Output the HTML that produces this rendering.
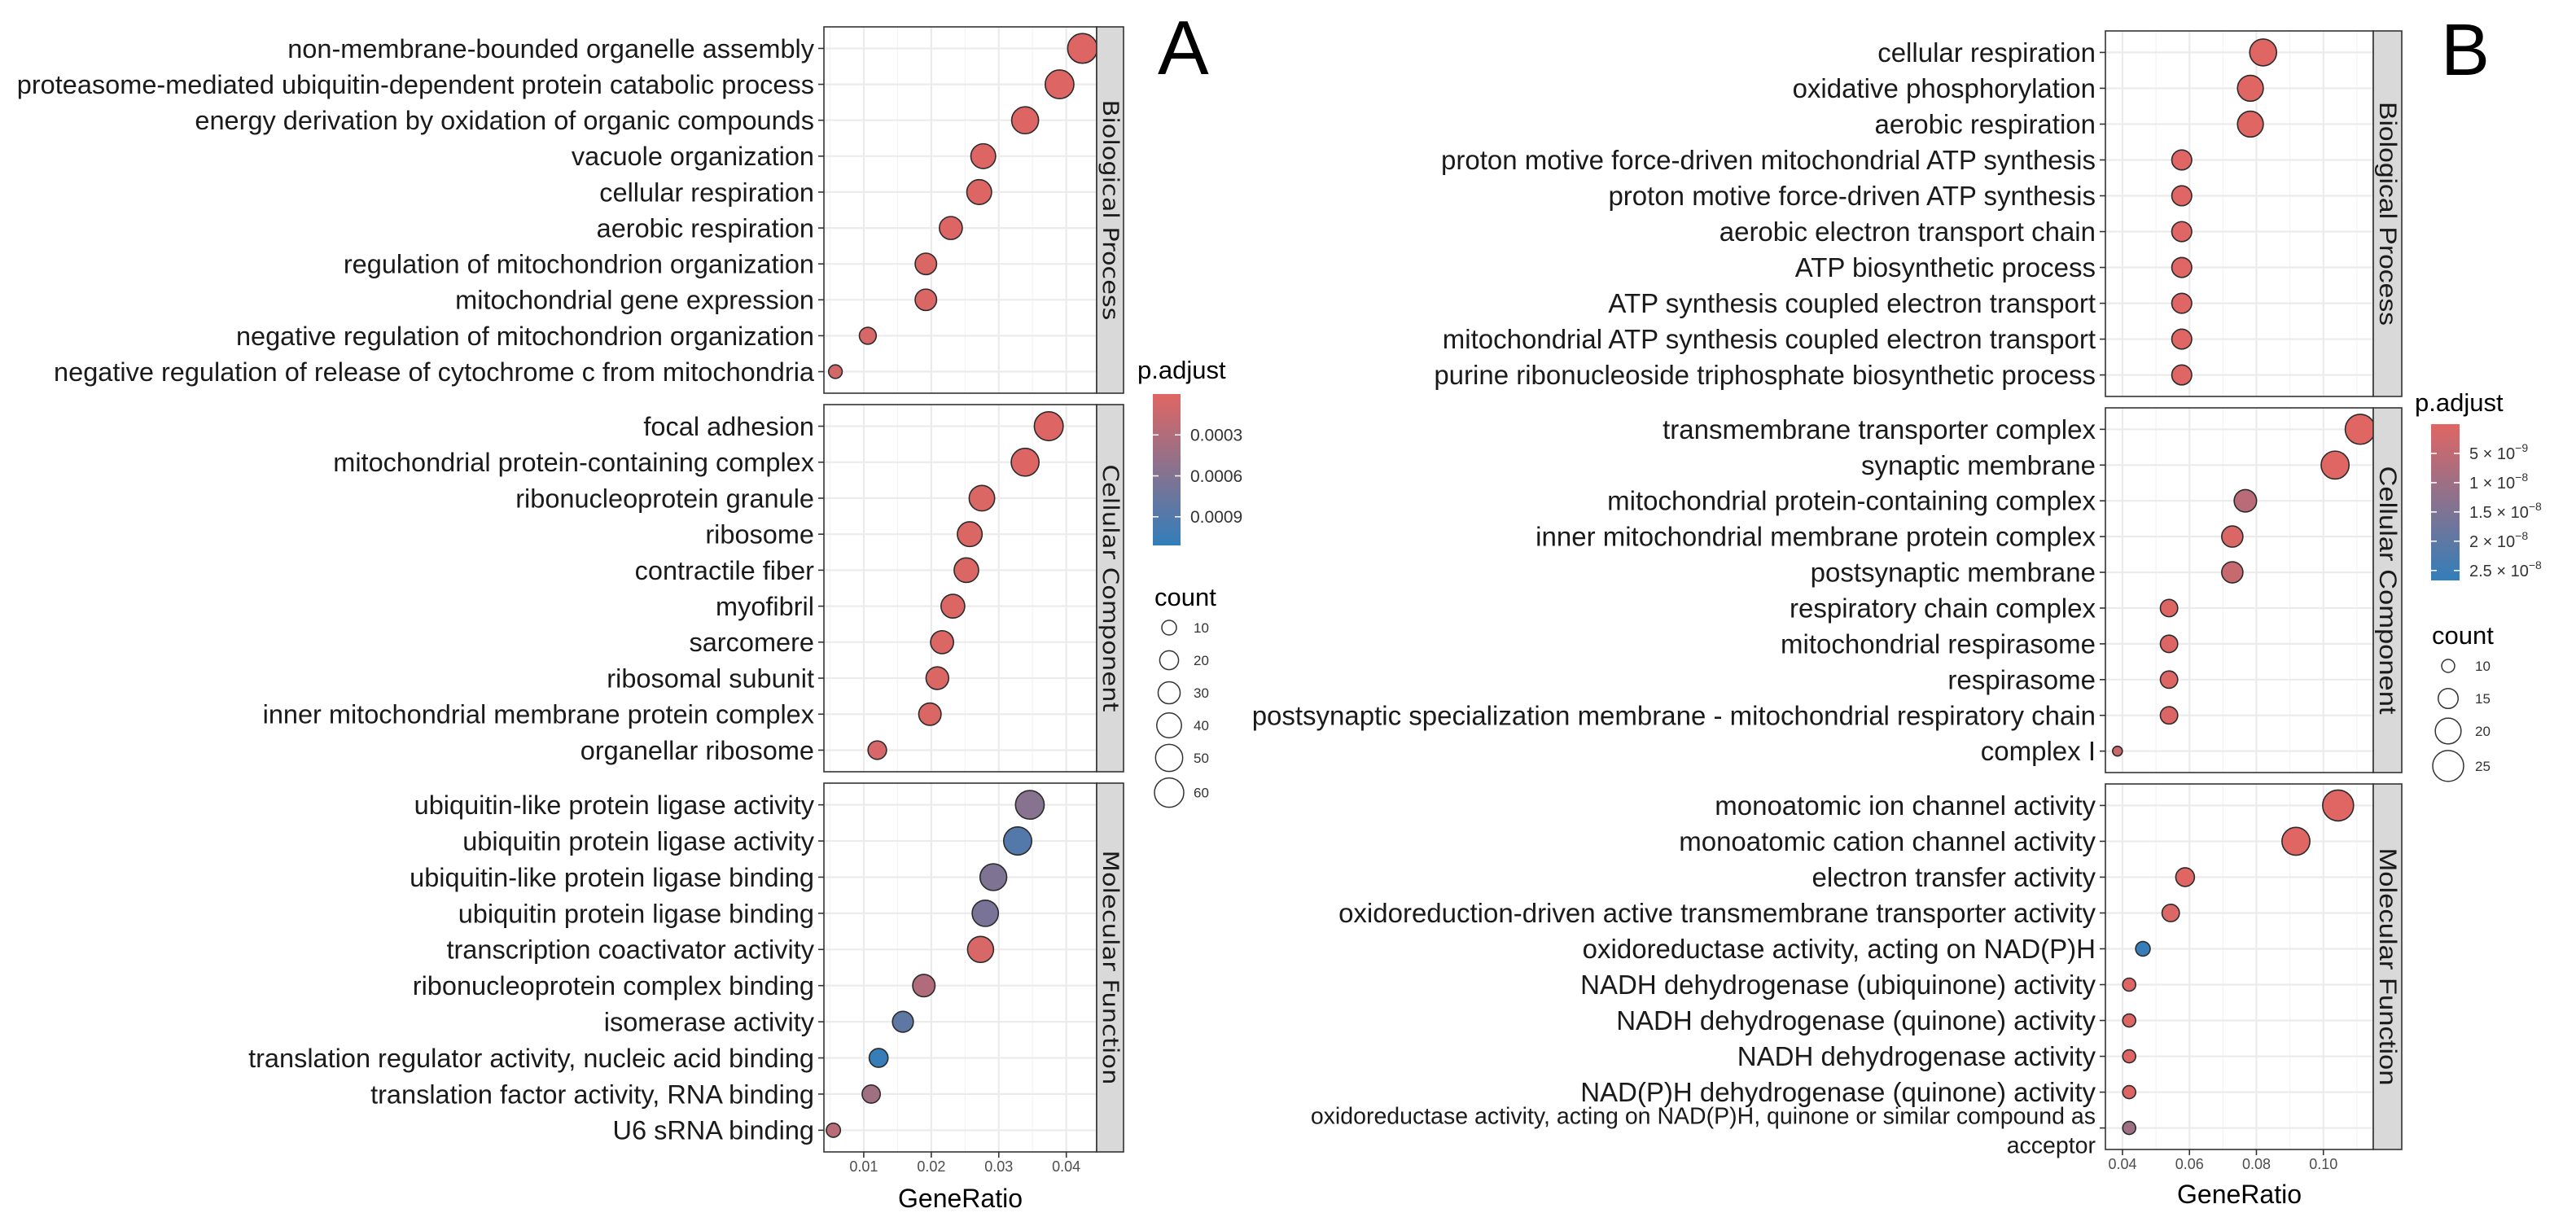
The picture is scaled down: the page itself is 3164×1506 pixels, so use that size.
<!DOCTYPE html>
<html><head><meta charset="utf-8">
<style>
html,body{margin:0;padding:0;background:#fff;}
svg{display:block;font-family:"Liberation Sans",Arial,sans-serif;}
</style></head>
<body>
<svg id="fig" xmlns="http://www.w3.org/2000/svg" width="3164" height="1506" viewBox="0 0 3164 1506">
<rect width="3164" height="1506" fill="#fff"/>
<text x="1422" y="91" font-size="94" fill="#000">A</text>
<text x="2998" y="92" font-size="90" fill="#000">B</text>
</svg>
<script>
// ---------- Chart A data ----------
const A_bp_terms = ["non-membrane-bounded organelle assembly","proteasome-mediated ubiquitin-dependent protein catabolic process","energy derivation by oxidation of organic compounds","vacuole organization","cellular respiration","aerobic respiration","regulation of mitochondrion organization","mitochondrial gene expression","negative regulation of mitochondrion organization","negative regulation of release of cytochrome c from mitochondria"];
const A_bp_ratio = [0.0424,0.0390,0.0339,0.0277,0.0271,0.0229,0.0192,0.0192,0.0106,0.0058];
const A_bp_count = [62,57,49,40,40,33,28,28,15,8];
const A_bp_padj = [0.00002,0.00002,0.00002,0.00002,0.00002,0.00002,0.00003,0.00003,0.00005,0.00008];
const A_cc_terms = ["focal adhesion","mitochondrial protein-containing complex","ribonucleoprotein granule","ribosome","contractile fiber","myofibril","sarcomere","ribosomal subunit","inner mitochondrial membrane protein complex","organellar ribosome"];
const A_cc_ratio = [0.0374,0.0339,0.0275,0.0257,0.0252,0.0232,0.0216,0.0209,0.0198,0.0120];
const A_cc_count = [58,53,43,40,39,36,33,32,31,19];
const A_cc_padj = [0.00002,0.00002,0.00003,0.00003,0.00003,0.00003,0.00003,0.00003,0.00003,0.00006];
const A_mf_terms = ["ubiquitin-like protein ligase activity","ubiquitin protein ligase activity","ubiquitin-like protein ligase binding","ubiquitin protein ligase binding","transcription coactivator activity","ribonucleoprotein complex binding","isomerase activity","translation regulator activity, nucleic acid binding","translation factor activity, RNA binding","U6 sRNA binding"];
const A_mf_ratio = [0.0346,0.0328,0.0292,0.0280,0.0273,0.0189,0.0158,0.0122,0.0111,0.0055];
const A_mf_count = [57,54,48,46,45,31,26,20,18,9];
const A_mf_padj = [0.00057,0.00090,0.00062,0.00066,0.00005,0.00030,0.00082,0.00108,0.00040,0.00025];
const A_x_ticks = [0.01,0.02,0.03,0.04];
const A_x_tick_labels = ["0.01","0.02","0.03","0.04"];
const A_p_ticks = [0.0003,0.0006,0.0009];
const A_p_tick_labels = ["0.0003","0.0006","0.0009"];
const A_count_keys = [10,20,30,40,50,60];
const A_facets = ["Biological Process","Cellular Component","Molecular Function"];

// ---------- Chart B data ----------
const B_bp_terms = ["cellular respiration","oxidative phosphorylation","aerobic respiration","proton motive force-driven mitochondrial ATP synthesis","proton motive force-driven ATP synthesis","aerobic electron transport chain","ATP biosynthetic process","ATP synthesis coupled electron transport","mitochondrial ATP synthesis coupled electron transport","purine ribonucleoside triphosphate biosynthetic process"];
const B_bp_ratio = [0.0820,0.0782,0.0782,0.0577,0.0577,0.0577,0.0577,0.0577,0.0577,0.0577];
const B_bp_count = [21,20,20,15,15,15,15,15,15,15];
const B_bp_padj = [1e-10,1e-10,1e-10,2e-10,2e-10,2e-10,2e-10,2e-10,2e-10,2e-10];
const B_cc_terms = ["transmembrane transporter complex","synaptic membrane","mitochondrial protein-containing complex","inner mitochondrial membrane protein complex","postsynaptic membrane","respiratory chain complex","mitochondrial respirasome","respirasome","postsynaptic specialization membrane - mitochondrial respiratory chain","complex I"];
const B_cc_ratio = [0.1110,0.1035,0.0767,0.0728,0.0728,0.0539,0.0539,0.0539,0.0539,0.0385];
const B_cc_count = [24,22,17,16,16,13,13,13,13,8];
const B_cc_padj = [1e-10,1e-10,6e-9,1e-9,4e-9,5e-10,5e-10,5e-10,5e-10,3.5e-9];
const B_mf_terms = ["monoatomic ion channel activity","monoatomic cation channel activity","electron transfer activity","oxidoreduction-driven active transmembrane transporter activity","oxidoreductase activity, acting on NAD(P)H","NADH dehydrogenase (ubiquinone) activity","NADH dehydrogenase (quinone) activity","NADH dehydrogenase activity","NAD(P)H dehydrogenase (quinone) activity","oxidoreductase activity, acting on NAD(P)H, quinone or similar compound as|acceptor"];
const B_mf_ratio = [0.1044,0.0918,0.0587,0.0544,0.0461,0.0420,0.0420,0.0420,0.0420,0.0420];
const B_mf_count = [25,22,14,13,11,10,10,10,10,10];
const B_mf_padj = [1e-10,1e-10,1e-10,8e-10,2.6e-8,5e-10,5e-10,5e-10,5e-10,1e-8];
const B_x_ticks = [0.04,0.06,0.08,0.10];
const B_x_tick_labels = ["0.04","0.06","0.08","0.10"];
const B_p_ticks = [5e-9,1e-8,1.5e-8,2e-8,2.5e-8];
const B_p_tick_mant = ["5","1","1.5","2","2.5"];
const B_p_tick_exp = ["-9","-8","-8","-8","-8"];
const B_count_keys = [10,15,20,25];
const B_facets = ["Biological Process","Cellular Component","Molecular Function"];

const NS = "http://www.w3.org/2000/svg";
const svg = document.getElementById('fig');
function mk(tag, attrs, parent){
  const e = document.createElementNS(NS, tag);
  for (const k in attrs) e.setAttribute(k, attrs[k]);
  (parent||svg).appendChild(e);
  return e;
}
const LOW = [224,102,99], HIGH = [50,126,186];
function colorFor(v, dom){
  let t = (v - dom[0])/(dom[1]-dom[0]); t = Math.max(0, Math.min(1, t));
  const c = LOW.map((l,i)=>Math.round(l + (HIGH[i]-l)*t));
  return `rgb(${c[0]},${c[1]},${c[2]})`;
}

function drawChart(cfg){
  const g = mk('g', {});
  
  
  const xs = v => cfg.px0 + (v - cfg.dom[0])/(cfg.dom[1]-cfg.dom[0])*(cfg.px1-cfg.px0);
  const rs = c => cfg.r0 + (cfg.r1-cfg.r0)*(Math.sqrt(c)-Math.sqrt(cfg.c0))/(Math.sqrt(cfg.c1)-Math.sqrt(cfg.c0));
  cfg.facets.forEach((f, fi) => {
    const [top, bot] = cfg.facetY[fi];
    const terms = cfg.terms[fi], ratio = cfg.ratio[fi], count = cfg.count[fi], padj = cfg.padj[fi];
    const n = terms.length, sp = (bot-top)/(n-1+1.2);
    const ys = i => top + 0.6*sp + i*sp;
    const pg = mk('g', {}, g);
    
    
    const bg = mk('rect', {x:cfg.px0, y:top, width:cfg.px1-cfg.px0, height:bot-top, fill:'#fff'}, pg);
    
    
    for (let i=0;i<cfg.ticks.length+1;i++){
      const step = cfg.ticks[1]-cfg.ticks[0];
      const mv = cfg.ticks[0] - step/2 + i*step;
      const mx = xs(mv);
      if (mx > cfg.px0 && mx < cfg.px1) {
        const l = mk('line', {x1:mx, x2:mx, y1:top, y2:bot, stroke:'#F3F3F3', 'stroke-width':1.2}, pg);
        
        
      }
    }
    cfg.ticks.forEach(t => {
      const l = mk('line', {x1:xs(t), x2:xs(t), y1:top, y2:bot, stroke:'#EBEBEB', 'stroke-width':2.2}, pg);
      
      
    });
    terms.forEach((t, i) => {
      const y = ys(i);
      const l = mk('line', {x1:cfg.px0, x2:cfg.px1, y1:y, y2:y, stroke:'#EBEBEB', 'stroke-width':2.2}, pg);
      
      
      const tk = mk('line', {x1:cfg.px0-7, x2:cfg.px0, y1:y, y2:y, stroke:'#333', 'stroke-width':1.6}, pg);
      
      
      const parts = t.split('|');
      if (parts.length>1){
        const fs = cfg.fsSmall;
        const offs = [-15, 21];
        parts.forEach((p, pi) => {
          const lab = mk('text', {x:cfg.px0-12, y:y + offs[pi] + fs*0.35, 'font-size':fs, 'text-anchor':'end', fill:'#1a1a1a'}, pg);
          
          
          lab.textContent = p;
        });
      } else {
        const lab = mk('text', {x:cfg.px0-12, y:y + cfg.fs*0.35, 'font-size':cfg.fs, 'text-anchor':'end', fill:'#1a1a1a'}, pg);
        
        
        lab.textContent = t;
      }
    });
    terms.forEach((t, i) => {
      const c = mk('circle', {cx:xs(ratio[i]), cy:ys(i), r:rs(count[i]), fill:colorFor(padj[i], cfg.pdom), stroke:'#2b2b2b', 'stroke-width':1.6}, pg);
      
      
    });
    const br = mk('rect', {x:cfg.px0, y:top, width:cfg.px1-cfg.px0, height:bot-top, fill:'none', stroke:'#333', 'stroke-width':1.6}, pg);
    
    
    const st = mk('rect', {x:cfg.px1, y:top, width:cfg.stripR-cfg.px1, height:bot-top, fill:'#D9D9D9', stroke:'#333', 'stroke-width':1.6}, pg);
    
    
    const cx = (cfg.px1+cfg.stripR)/2, cy = (top+bot)/2;
    const stt = mk('text', {x:cx, y:cy, 'font-size':cfg.stripFs, 'font-family':cfg.stripFont, 'text-anchor':'middle', 'dominant-baseline':'central', fill:'#1a1a1a', transform:`rotate(90 ${cx} ${cy})`, textLength:cfg.stripLen[fi], lengthAdjust:'spacingAndGlyphs'}, pg);
    
    
    stt.textContent = f;
  });
  const lastBot = cfg.facetY[2][1];
  cfg.ticks.forEach((t, i) => {
    const tk = mk('line', {x1:xs(t), x2:xs(t), y1:lastBot, y2:lastBot+7, stroke:'#333', 'stroke-width':1.6}, g);
    
    
    const tl = mk('text', {x:xs(t), y:lastBot+24, 'font-size':18, 'text-anchor':'middle', fill:'#4d4d4d'}, g);
    
    
    tl.textContent = cfg.tickLabels[i];
  });
  const xt = mk('text', {x:(cfg.px0+cfg.px1)/2, y:cfg.xTitleY, 'font-size':32, 'text-anchor':'middle', fill:'#000'}, g);
  
  
  xt.textContent = 'GeneRatio';
  const L = cfg.legend;
  const lg = mk('g', {}, g);
  
  
  const pt = mk('text', {x:L.titleX, y:L.titleY, 'font-size':31, fill:'#000'}, lg);
  
  
  pt.textContent = 'p.adjust';
  const gid = 'grad-' + cfg.name;
  const defs = mk('defs', {}, lg);
  const grad = mk('linearGradient', {id:gid, x1:0, y1:0, x2:0, y2:1}, defs);
  mk('stop', {offset:0, 'stop-color':colorFor(cfg.pdom[0], cfg.pdom)}, grad);
  mk('stop', {offset:1, 'stop-color':colorFor(cfg.pdom[1], cfg.pdom)}, grad);
  const bar = mk('rect', {x:L.barX, y:L.barY0, width:L.barW, height:L.barY1-L.barY0, fill:`url(#${gid})`}, lg);
  
  
  const py = v => L.barY0 + (v-cfg.pdom[0])/(cfg.pdom[1]-cfg.pdom[0])*(L.barY1-L.barY0);
  cfg.pticks.forEach((v, i) => {
    const y = py(v);
    mk('line', {x1:L.barX, x2:L.barX+7, y1:y, y2:y, stroke:'#fff', 'stroke-width':1.5}, lg);
    mk('line', {x1:L.barX+L.barW-7, x2:L.barX+L.barW, y1:y, y2:y, stroke:'#fff', 'stroke-width':1.5}, lg);
    const t = mk('text', {x:L.barX+L.barW+12, y:y + cfg.pFs*0.35, 'font-size':cfg.pFs, fill:'#333'}, lg);
    
    
    if (cfg.pMant) {
      t.appendChild(document.createTextNode(cfg.pMant[i] + ' \u00d7 10'));
      const sup = mk('tspan', {dy:-9, 'font-size':14}, t);
      sup.textContent = cfg.pExp[i].replace('-', '\u2212');
    } else t.textContent = cfg.pLabels[i];
  });
  const cg = mk('g', {}, g);
  
  
  const ct = mk('text', {x:L.cTitleX, y:L.cTitleY, 'font-size':31, fill:'#000'}, cg);
  
  
  ct.textContent = 'count';
  let y = L.cY0, prevR = null;
  cfg.ckeys.forEach(k => {
    const r = rs(k);
    if (prevR !== null) y += Math.max(L.minStep, prevR + r + 8);
    const c = mk('circle', {cx:L.cX, cy:y, r:r, fill:'none', stroke:'#333', 'stroke-width':1.5}, cg);
    
    
    const t = mk('text', {x:L.cLabX, y:y + 6, 'font-size':17, fill:'#333'}, cg);
    
    
    t.textContent = String(k);
    prevR = r;
  });
}

drawChart({
  name:'chart-a', px0:1012, px1:1347, stripR:1380, dom:[0.0041,0.0445],
  facetY:[[33,483],[497,948],[962,1415]], facets:A_facets,
  terms:[A_bp_terms,A_cc_terms,A_mf_terms], ratio:[A_bp_ratio,A_cc_ratio,A_mf_ratio],
  count:[A_bp_count,A_cc_count,A_mf_count], padj:[A_bp_padj,A_cc_padj,A_mf_padj],
  ticks:A_x_ticks, tickLabels:A_x_tick_labels, xTitleY:1483,
  r0:9, r1:18, c0:10, c1:60, pdom:[0,0.00111], fs:32.5, fsSmall:30,
  stripFs:27, stripFont:'"DejaVu Sans",sans-serif', stripLen:[271,304,288],
  pticks:A_p_ticks, pLabels:A_p_tick_labels, pFs:21, ckeys:A_count_keys,
  legend:{titleX:1397,titleY:465,barX:1416,barW:34,barY0:484,barY1:670,cTitleX:1418,cTitleY:744,cX:1436,cLabX:1466,cY0:771,minStep:40}
});
drawChart({
  name:'chart-b', px0:2586, px1:2915, stripR:2950, dom:[0.0349,0.1149],
  facetY:[[38,487],[501,949],[963,1412]], facets:B_facets,
  terms:[B_bp_terms,B_cc_terms,B_mf_terms], ratio:[B_bp_ratio,B_cc_ratio,B_mf_ratio],
  count:[B_bp_count,B_cc_count,B_mf_count], padj:[B_bp_padj,B_cc_padj,B_mf_padj],
  ticks:B_x_ticks, tickLabels:B_x_tick_labels, xTitleY:1478,
  r0:8, r1:19, c0:10, c1:25, pdom:[0,2.67e-8], fs:33, fsSmall:28.5,
  stripFs:30, stripFont:'"Liberation Sans",sans-serif', stripLen:[275,305,292],
  pticks:B_p_ticks, pMant:B_p_tick_mant, pExp:B_p_tick_exp, pFs:20, ckeys:B_count_keys,
  legend:{titleX:2966,titleY:505,barX:2986,barW:35,barY0:521,barY1:713,cTitleX:2987,cTitleY:791,cX:3007,cLabX:3040,cY0:818,minStep:40}
});
</script>
</body></html>
